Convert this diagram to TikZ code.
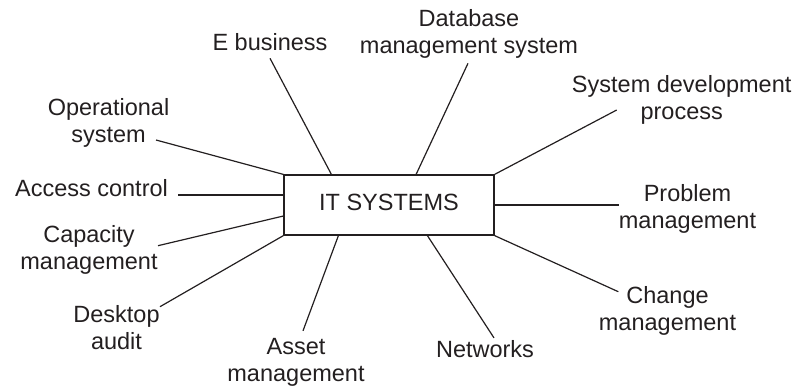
\documentclass[tikz,border=0pt]{standalone}
\usepackage{fontspec}
\setmainfont{Liberation Sans}
\usetikzlibrary{calc}
\definecolor{ink}{HTML}{231F20}
\tikzset{
  lab/.style={align=center, inner sep=0pt, text=ink, font=\fontsize{23.5}{27}\selectfont},
  hub/.style={draw=ink, line width=1.2pt, minimum width=210pt, minimum height=60pt, inner sep=0pt, text=ink, font=\fontsize{23.5}{27}\selectfont},
  link/.style={draw=ink, line width=1.2pt}
}
\begin{document}
\begin{tikzpicture}[x=1pt,y=-1pt]
\useasboundingbox (0,0) rectangle (795,386);
\node[hub] (box) at (389,205) {\strut IT SYSTEMS};
\node[lab] (ebiz) at (270,44.6) {\strut E business};
\node[lab] (dbms) at (469,34.1) {\strut Database\\\strut management system};
\node[lab] (sysdev) at (681.7,101) {\strut System development\\\strut process};
\node[lab] (oper) at (108.5,124) {\strut Operational\\\strut system};
\node[lab] (access) at (91.5,191.3) {\strut Access control};
\node[lab] (cap) at (89,251) {\strut Capacity\\\strut management};
\node[lab] (desk) at (116.5,331) {\strut Desktop\\\strut audit};
\node[lab] (asset) at (296,363) {\strut Asset\\\strut management};
\node[lab] (net) at (485,351.6) {\strut Networks};
\node[lab] (chg) at (667.5,311.4) {\strut Change\\\strut management};
\node[lab] (prob) at (687.5,209.8) {\strut Problem\\\strut management};

\draw[link] (ebiz.south) -- ($(box.north west)+(48,0)$);
\draw[link] ($(dbms.south)+(-1,2)$) -- ($(box.north west)+(132.7,0)$);
\draw[link] ($(sysdev.center)+(-65,9)$) -- (box.north east);
\draw[link] ($(oper.center)+(47.5,16)$) -- (box.north west);
\draw[link] ($(access.east)+(10,3.7)$) -- ($(box.west)+(0,-10)$);
\draw[link] ($(cap.center)+(69,-5.3)$) -- ($(box.west)+(0,11)$);
\draw[link] ($(desk.center)+(43.5,-24.3)$) -- (box.south west);
\draw[link] ($(asset.north)+(7,-5)$) -- ($(box.south west)+(55,0)$);
\draw[link] ($(net.north)+(9,0)$) -- ($(box.south west)+(144,0)$);
\draw[link] ($(chg.center)+(-49.2,-19.7)$) -- (box.south east);
\draw[link] (box.east) -- (box.east -| prob.west);
\end{tikzpicture}
\end{document}
